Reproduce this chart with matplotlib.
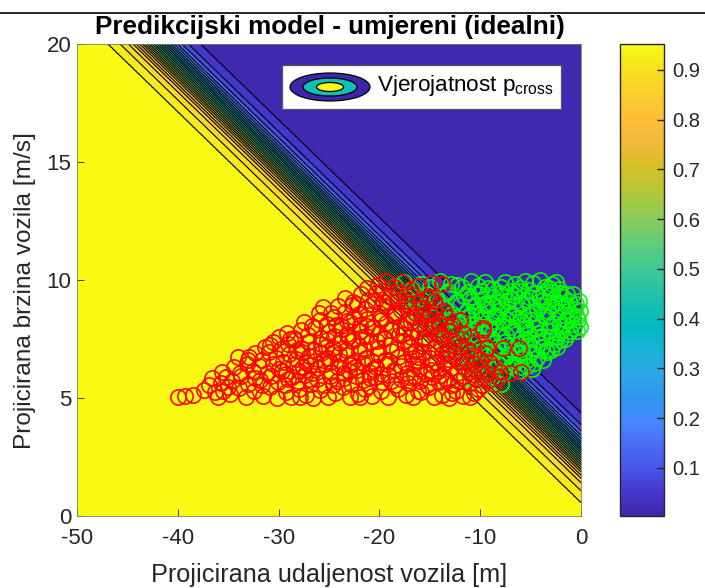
import numpy as np
import matplotlib
matplotlib.use('Agg')
import matplotlib.pyplot as plt
from matplotlib.colors import LinearSegmentedColormap, Normalize
from matplotlib.cm import ScalarMappable
from matplotlib.patches import Ellipse, Rectangle

plt.rcParams['font.family'] = ['Liberation Sans', 'DejaVu Sans']
plt.rcParams['mathtext.fontset'] = 'custom'
plt.rcParams['mathtext.rm'] = 'Liberation Sans'
plt.rcParams['axes.unicode_minus'] = False

# position of each contour line, measured as y + slope*x, and its probability
line_slope = 0.414
line_offset = [0.58, 1.07, 1.41, 1.60, 1.73, 1.87, 1.98, 2.08, 2.18, 2.28, 2.38, 2.48,
               2.58, 2.68, 2.78, 2.87, 2.97, 3.07, 3.17, 3.29, 3.42, 3.61, 3.87, 4.36]
line_prob = [0.945, 0.905, 0.865, 0.825, 0.785, 0.745, 0.705, 0.665, 0.625, 0.585, 0.545, 0.505,
             0.465, 0.425, 0.385, 0.345, 0.305, 0.265, 0.225, 0.185, 0.145, 0.105, 0.065, 0.025]
prob_min = 0.0035
prob_max = 0.952

parula = ['#3e26a8', '#4538d0', '#4855e8', '#4a6cf5', '#4689fe', '#2f96f0', '#2da5e6', '#18b2d6',
          '#01b8c4', '#18bfb0', '#33c59e', '#4ecb88', '#72cc6f', '#98cb4e', '#bcc532', '#dcbd29',
          '#f5b93a', '#fdbf36', '#fbd02c', '#f6e01f', '#f8fa14']

red_pts = [
    (-40.0,5.05),(-39.3,5.08),(-38.5,5.12),(-37.4,5.32),(-36.9,5.55),(-36.3,5.25),(-36.0,5.05),(-35.5,5.3),
    (-34.8,5.15),(-33.9,5.42),(-33.2,5.05),(-32.4,5.3),(-31.5,5.1),(-30.9,5.48),(-30.2,5.02),(-29.3,5.25),
    (-28.8,5.06),(-28.0,5.4),(-27.3,5.12),(-26.6,5.02),(-25.9,5.33),(-25.1,5.05),(-24.4,5.22),(-23.6,5.46),
    (-22.9,5.03),(-22.1,5.18),(-21.4,5.38),(-20.7,5.07),(-19.8,5.28),(-19.1,5.04),(-18.2,5.4),(-17.4,5.11),
    (-16.7,5.03),(-15.9,5.24),(-15.1,5.45),(-14.6,5.06),(-13.8,5.14),(-13.1,5.02),(-12.4,5.3),(-11.7,5.08),
    (-11.0,5.04),(-10.6,5.2),(-10.2,5.4),(-27.9,5.05),(-21.9,5.06),(-16.2,5.3),(-12.8,5.2),
    (-36.6,5.85),(-35.7,5.62),(-35.2,5.9),(-34.6,5.7),(-33.7,5.95),(-33.0,5.6),(-32.3,5.83),(-31.6,5.55),
    (-30.8,5.92),(-30.1,5.68),(-29.4,5.55),(-28.7,5.88),(-28.1,5.72),(-27.4,5.97),(-26.8,5.6),(-26.2,5.81),
    (-25.5,5.53),(-24.9,5.95),(-24.2,5.7),(-23.5,5.86),(-22.8,5.58),(-22.3,5.93),(-21.6,5.75),(-21.0,5.52),
    (-20.4,5.88),(-19.7,5.66),(-19.1,5.97),(-18.5,5.54),(-17.9,5.8),(-17.2,5.62),(-16.6,5.95),(-16.0,5.71),
    (-15.3,5.56),(-14.8,5.9),(-14.1,5.68),(-13.5,5.85),(-12.9,5.55),(-12.2,5.74),(-11.6,5.95),(-11.0,5.63),
    (-10.4,5.82),(-9.8,5.56),(-9.2,5.75),(-8.6,5.6),(-8.1,5.9),(-24.6,5.55),(-18.8,5.72),(-13.9,5.98),
    (-35.6,6.1),(-34.4,6.3),(-33.8,6.05),(-33.1,6.42),(-32.5,6.15),(-31.9,6.35),(-31.2,6.08),(-30.6,6.45),
    (-30.0,6.22),(-29.3,6.03),(-28.6,6.38),(-28.0,6.16),(-27.3,6.47),(-26.7,6.06),(-26.1,6.28),(-25.4,6.44),
    (-24.8,6.12),(-24.1,6.33),(-23.5,6.05),(-22.9,6.41),(-22.2,6.2),(-21.6,6.48),(-21.0,6.09),(-20.3,6.3),
    (-19.7,6.02),(-19.2,6.44),(-18.6,6.17),(-17.9,6.36),(-17.3,6.07),(-16.7,6.46),(-16.1,6.25),(-15.4,6.03),
    (-14.8,6.39),(-14.2,6.14),(-13.6,6.47),(-13.0,6.24),(-12.3,6.05),(-11.7,6.36),(-11.1,6.12),(-10.5,6.42),
    (-9.9,6.18),(-9.3,6.05),(-8.6,6.3),(-8.0,6.12),(-7.0,6.05),(-6.0,6.1),(-27.6,6.3),(-20.6,6.24),
    (-34.0,6.75),(-33.0,6.6),(-32.3,6.9),(-31.6,6.62),(-31.0,6.95),(-30.3,6.7),(-29.6,6.53),(-29.0,6.88),
    (-28.3,6.64),(-27.7,6.97),(-27.0,6.76),(-26.4,6.55),(-25.8,6.9),(-25.1,6.68),(-24.5,6.96),(-23.9,6.58),
    (-23.2,6.81),(-22.6,6.52),(-22.0,6.94),(-21.3,6.7),(-20.7,6.56),(-20.1,6.85),(-19.4,6.63),(-18.8,6.98),
    (-18.2,6.74),(-17.6,6.53),(-16.9,6.88),(-16.3,6.6),(-15.7,6.93),(-15.0,6.7),(-14.4,6.54),(-13.8,6.86),
    (-13.2,6.64),(-12.5,6.96),(-11.9,6.72),(-11.3,6.55),(-10.7,6.84),(-10.0,6.66),(-9.5,6.92),(-24.9,6.52),
    (-31.3,7.15),(-30.6,7.38),(-29.8,7.08),(-29.1,7.3),(-28.4,7.45),(-27.8,7.12),(-27.1,7.36),(-26.5,7.03),
    (-25.8,7.27),(-25.2,7.47),(-24.6,7.1),(-23.9,7.34),(-23.3,7.05),(-22.7,7.43),(-22.0,7.2),(-21.4,7.02),
    (-20.8,7.36),(-20.1,7.13),(-19.5,7.48),(-18.9,7.25),(-18.3,7.06),(-17.6,7.4),(-17.0,7.17),(-16.4,7.02),
    (-15.8,7.33),(-15.1,7.46),(-14.5,7.1),(-13.9,7.3),(-13.2,7.05),(-12.6,7.42),(-12.0,7.2),(-11.3,7.08),
    (-10.7,7.32),(-9.3,7.1),(-7.7,7.1),(-6.2,7.1),
    (-30.0,7.6),(-29.2,7.75),(-28.5,7.55),(-27.8,7.9),(-27.1,7.68),(-26.4,7.95),(-25.8,7.56),(-25.1,7.8),
    (-24.5,7.62),(-23.8,7.92),(-23.2,7.7),(-22.6,7.52),(-21.9,7.85),(-21.3,7.64),(-20.7,7.96),(-20.0,7.74),
    (-19.4,7.55),(-18.8,7.88),(-18.1,7.66),(-17.5,7.97),(-16.9,7.58),(-16.2,7.82),(-15.6,7.6),(-15.0,7.93),
    (-14.3,7.72),(-13.7,7.53),(-13.1,7.86),(-12.4,7.63),(-11.7,7.76),(-10.9,7.58),(-9.7,7.9),
    (-27.5,8.2),(-26.7,8.05),(-25.9,8.3),(-25.2,8.12),(-24.5,8.42),(-23.8,8.04),(-23.2,8.27),(-22.5,8.45),
    (-21.9,8.1),(-21.2,8.33),(-20.6,8.02),(-19.9,8.38),(-19.3,8.16),(-18.6,8.46),(-18.0,8.07),(-17.3,8.29),
    (-16.7,8.43),(-16.0,8.12),(-15.4,8.35),(-14.7,8.05),(-14.1,8.24),(-13.4,8.44),(-12.7,8.1),(-12.0,8.3),
    (-25.6,8.85),(-24.8,8.6),(-24.1,8.9),(-23.4,8.66),(-22.7,8.95),(-22.0,8.55),(-21.4,8.78),(-20.7,8.97),
    (-20.0,8.62),(-19.3,8.86),(-18.6,8.54),(-17.9,8.75),(-17.2,8.98),(-16.5,8.6),(-15.8,8.82),(-15.1,8.57),
    (-14.4,8.9),(-13.6,8.68),
    (-23.4,9.25),(-22.6,9.08),(-21.8,9.4),(-21.1,9.15),(-20.3,9.45),(-19.6,9.05),(-18.9,9.3),(-18.1,9.48),
    (-17.4,9.12),(-16.7,9.36),(-16.0,9.05),(-15.3,9.25),(-14.6,9.1),
    (-21.2,9.65),(-20.1,9.8),(-19.3,9.95),(-18.6,9.7),(-17.8,9.9),(-17.0,9.6),(-16.2,9.75),(-14.8,9.87),
    (-13.8,9.85),(-12.0,8.3),(-9.7,7.95),(-9.3,7.15),
    # second pass over the thick part of the cloud
    (-29.7,6.15),(-28.2,7.05),(-26.9,6.4),(-25.3,7.15),(-24.0,6.85),(-23.1,7.6),(-22.4,6.3),(-21.2,8.05),
    (-20.2,7.4),(-19.0,6.55),(-18.4,8.6),(-17.7,7.7),(-16.5,7.0),(-15.5,8.0),(-14.9,6.2),(-14.0,7.65),
    (-13.4,6.9),(-12.2,6.55),(-24.3,8.1),(-22.2,9.0),(-19.6,9.55),(-16.9,8.2),(-15.0,9.3),(-13.0,8.0),
    (-31.8,5.75),(-27.0,5.8),(-23.0,6.15),(-20.9,5.85),(-17.0,5.9),(-13.3,5.7),(-10.7,6.0),(-9.0,6.5),
    (-28.9,7.5),(-26.0,8.6),(-22.9,8.2),(-20.4,9.1),(-18.3,9.1),(-15.9,8.5),(-14.5,8.6),(-16.2,6.75),
    (-35.0,5.45),(-32.9,6.75),(-30.9,7.25),(-29.1,5.8),(-25.6,6.6),(-21.7,7.6),(-19.8,8.3),(-17.2,7.3),
]

green_pts = [
    (-18.5,9.75),(-17.6,9.9),(-16.8,9.6),(-15.9,9.85),(-15.0,9.7),(-14.0,9.95),(-13.2,9.55),(-12.3,9.8),
    (-10.9,9.95),(-10.2,9.75),(-9.5,9.92),(-8.7,9.6),(-7.9,9.72),(-7.0,9.55),(-6.1,9.68),(-5.2,9.58),
    (-4.1,9.98),(-3.6,9.7),(-2.9,9.85),(-2.2,9.62),(-9.9,9.55),(-4.8,9.88),
    (-17.4,9.3),(-16.4,9.1),(-15.3,9.4),(-14.3,9.2),(-13.3,9.45),(-12.4,9.05),(-11.6,9.33),(-10.8,9.12),
    (-10.1,9.42),(-9.4,9.02),(-8.7,9.27),(-8.0,9.46),(-7.3,9.1),(-6.6,9.36),(-5.9,9.04),(-5.2,9.3),
    (-4.5,9.47),(-3.8,9.15),(-3.1,9.38),(-2.4,9.05),(-1.8,9.3),(-1.2,9.12),(-0.8,9.4),(-0.2,9.1),
    (-11.2,9.48),(-6.9,9.25),(-2.9,9.48),
    (-16.6,8.7),(-15.5,8.9),(-14.5,8.6),(-13.6,8.82),(-12.8,8.55),(-12.0,8.95),(-11.3,8.68),(-10.6,8.88),
    (-9.9,8.58),(-9.2,8.78),(-8.5,8.52),(-7.9,8.93),(-7.2,8.66),(-6.5,8.85),(-5.8,8.55),(-5.1,8.96),
    (-4.4,8.72),(-3.7,8.53),(-3.0,8.9),(-2.4,8.65),(-1.8,8.85),(-1.2,8.58),(-0.6,8.78),(-0.1,8.7),
    (-8.8,8.98),(-4.0,8.96),(-1.5,8.96),(-10.9,8.52),
    (-15.8,8.2),(-14.8,8.42),(-13.8,8.1),(-12.9,8.35),(-12.1,8.02),(-11.3,8.45),(-10.5,8.15),(-9.8,8.33),
    (-9.1,8.04),(-8.4,8.45),(-7.7,8.2),(-7.0,8.02),(-6.3,8.38),(-5.6,8.12),(-4.9,8.3),(-4.2,8.05),
    (-3.5,8.42),(-2.8,8.18),(-2.1,8.03),(-1.5,8.32),(-0.9,8.12),(-0.4,8.42),(-0.1,8.0),(-6.7,8.46),
    (-14.8,7.75),(-13.7,7.55),(-12.7,7.85),(-11.8,7.62),(-11.0,7.93),(-10.2,7.58),(-9.5,7.8),(-8.8,7.52),
    (-8.1,7.95),(-7.4,7.68),(-6.7,7.88),(-6.0,7.55),(-5.3,7.78),(-4.6,7.96),(-3.9,7.6),(-3.2,7.85),
    (-2.5,7.58),(-1.9,7.9),(-1.3,7.7),(-0.7,7.95),(-5.0,7.52),
    (-13.4,7.2),(-12.4,7.4),(-11.4,7.12),(-10.5,7.35),(-9.7,7.05),(-9.0,7.42),(-8.3,7.18),(-7.6,7.36),
    (-6.9,7.03),(-6.2,7.28),(-5.5,7.45),(-4.8,7.1),(-4.1,7.33),(-3.5,7.04),(-2.7,7.3),(-2.1,7.45),
    (-3.4,6.95),
    (-12.1,6.6),(-11.0,6.85),(-10.1,6.55),(-9.3,6.78),(-8.5,6.95),(-7.8,6.62),(-7.1,6.85),(-6.4,6.55),
    (-5.7,6.78),(-5.0,6.95),(-4.4,6.7),(-3.8,6.6),(-6.1,6.92),
    (-11.4,6.2),(-10.3,6.4),(-9.4,6.1),(-8.5,6.3),(-7.7,6.05),(-6.9,6.35),(-6.2,6.15),(-5.4,6.35),
    (-11.9,5.7),(-10.7,5.85),(-9.7,5.55),(-8.8,5.9),(-7.9,5.6),
    # second pass, the visible green part is nearly closed
    (-12.9,9.85),(-11.8,9.7),(-9.2,9.65),(-7.5,9.9),(-6.5,9.85),(-5.6,9.95),(-3.2,9.65),(-2.5,9.9),
    (-11.0,9.25),(-9.8,9.2),(-8.3,9.05),(-7.7,9.35),(-6.2,9.55),(-5.5,9.15),(-4.2,9.3),(-3.4,9.05),
    (-2.1,9.45),(-1.4,9.4),(-0.5,9.0),(-10.4,8.7),(-9.5,8.95),(-8.2,8.7),(-6.9,8.55),(-6.0,8.98),
    (-4.8,8.6),(-3.3,8.7),(-2.7,9.0),(-0.9,8.5),(-0.3,8.3),(-11.7,8.2),(-10.1,8.05),(-8.8,8.25),
    (-7.4,8.35),(-6.0,8.25),(-5.2,8.5),(-4.5,8.2),(-3.1,8.05),(-1.8,8.15),(-1.1,7.85),(-0.4,7.85),
    (-10.7,7.7),(-9.1,7.95),(-7.9,7.65),(-6.4,7.7),(-5.6,7.95),(-4.3,7.75),(-3.0,7.6),(-2.2,7.75),
    (-1.6,7.5),(-9.9,7.2),(-8.6,7.0),(-7.3,7.25),(-5.9,7.1),(-5.2,7.25),(-3.9,7.15),(-2.4,7.15),
    (-7.5,6.7),(-6.6,6.45),(-5.4,6.6),(-4.7,6.5),(-3.0,7.05),(-8.2,6.5),(-6.0,6.3),(-4.9,6.25),
]

# contour surface, the probability only changes across the diagonal lines
x_grid = np.linspace(-50, 0, 1000)
y_grid = np.linspace(0, 20, 800)
X, Y = np.meshgrid(x_grid, y_grid)
offset_asc = [-25.0] + line_offset + [25.0]
prob_desc = [prob_max + 0.003] + line_prob + [prob_min]
Z = np.interp(Y + line_slope * X, offset_asc, prob_desc)
levels = [prob_min] + line_prob[::-1] + [prob_max + 0.003]

cmap = LinearSegmentedColormap.from_list('parula', parula, N=256)
norm = Normalize(prob_min, prob_max)

fig = plt.figure(figsize=(7.05, 5.88), dpi=100)
W, H = 705.0, 588.0
ax = fig.add_axes([77 / W, 1 - 516 / H, 504 / W, 472 / H])
ax.contourf(X, Y, Z, levels=levels, cmap=cmap, norm=norm)
ax.contour(X, Y, Z, levels=line_prob[::-1], colors='k', linewidths=0.8)

gx, gy = zip(*green_pts)
rx, ry = zip(*red_pts)
ax.plot(gx, gy, 'o', mfc='none', mec='#00ff00', ms=11.0, mew=1.15, clip_on=False)
ax.plot(rx, ry, 'o', mfc='none', mec='#ff0000', ms=11.0, mew=1.15, clip_on=False)

ax.set_xlim(-50, 0)
ax.set_ylim(0, 20)
ax.set_xticks([-50, -40, -30, -20, -10, 0])
ax.set_yticks([0, 5, 10, 15, 20])
ax.tick_params(direction='in', length=5, width=0.6, colors='#262626', labelsize=16)
ax.tick_params(axis='x', pad=9)
ax.tick_params(axis='y', pad=4)
for s in ax.spines.values():
    s.set_linewidth(0.6)
    s.set_color('#808060')
ax.set_xlabel('Projicirana udaljenost vozila [m]', fontsize=18.2, color='#262626')
ax.xaxis.set_label_coords(0.5, (516 - 575) / 472, transform=ax.transAxes)
ax.xaxis.label.set_va('center')
ax.set_ylabel('Projicirana brzina vozila [m/s]', fontsize=17.6, color='#262626')
ax.yaxis.set_label_coords((25 - 77) / 504, 0.477, transform=ax.transAxes)
ax.yaxis.label.set_va('center')
fig.text(330 / W, 1 - 27 / H, 'Predikcijski model - umjereni (idealni)', fontsize=18.8, fontweight='bold',
         ha='center', va='center')

# hand made legend box, in pixel fractions of the axes
def ax_box(px, py):
    return (px - 77) / 504, (516 - py) / 472

lx, ly = ax_box(282, 109)
ax.add_patch(Rectangle((lx, ly), 279 / 504, 44 / 472, transform=ax.transAxes, fc='white', ec='#555555',
                       lw=0.9, zorder=5))
ex, ey = ax_box(330, 87)
for w, h, col in [(80, 28, '#3e26a8'), (54, 18, '#10bfb8'), (27, 9, '#f8fa14')]:
    ax.add_patch(Ellipse((ex, ey), w / 504, h / 472, transform=ax.transAxes, fc=col, ec='k', lw=0.9, zorder=6))
tx, ty = ax_box(377, 86)
ax.text(tx, ty, r'Vjerojatnost p$_{\mathregular{cross}}$', transform=ax.transAxes, fontsize=16.2,
        va='center', ha='left', zorder=7)

cax = fig.add_axes([620 / W, 1 - 516 / H, 44 / W, 472 / H])
cb = fig.colorbar(ScalarMappable(norm=norm, cmap=cmap), cax=cax)
cb.set_ticks([0.1, 0.2, 0.3, 0.4, 0.5, 0.6, 0.7, 0.8, 0.9])
cb.ax.tick_params(direction='in', length=5, width=1.0, colors='#262626', labelsize=14.5, pad=6)
cb.outline.set_linewidth(1.0)
cb.outline.set_edgecolor('#262626')

# black rule above the title, comes with the source figure
fig.add_artist(plt.Line2D([0, 1], [1 - 13 / H, 1 - 13 / H], color='k', lw=1.2))

fig.savefig('out.png', dpi=100)
